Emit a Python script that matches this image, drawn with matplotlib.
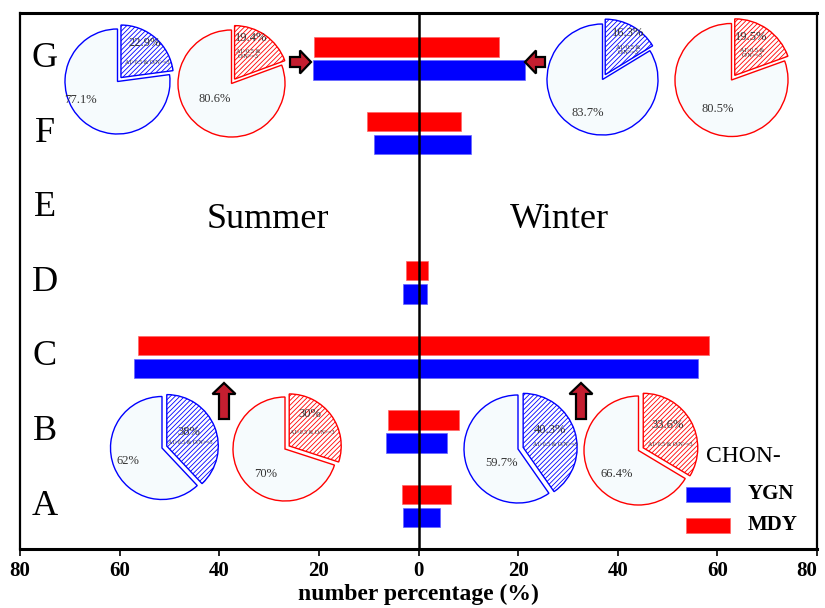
import matplotlib
matplotlib.use("Agg")
import matplotlib.pyplot as plt
import matplotlib.patches as mpatches
import matplotlib.transforms as mtransforms
import numpy as np

plt.rcParams['font.family'] = ['Liberation Serif', 'DejaVu Serif']
plt.rcParams['hatch.linewidth'] = 0.6

# ---------------- data ----------------
categories = ['A', 'B', 'C', 'D', 'E', 'F', 'G']
summer_ygn = [3.2, 6.6, 57.1, 3.1, 0.0, 8.9, 21.2]
summer_mdy = [3.4, 6.2, 56.4, 2.5, 0.0, 10.3, 21.0]
winter_ygn = [4.4, 5.7, 56.2, 1.7, 0.0, 10.5, 21.4]
winter_mdy = [6.6, 8.2, 58.3, 2.0, 0.0, 8.6, 16.1]

xticks = [-80, -60, -40, -20, 0, 20, 40, 60, 80]
xtick_labels = ['80', '60', '40', '20', '0', '20', '40', '60', '80']

# pie data: (share AI>0.5 & O/N>=3, rest)
pie_G_summer_ygn = [22.9, 77.1]
pie_G_summer_mdy = [19.4, 80.6]
pie_G_winter_ygn = [16.3, 83.7]
pie_G_winter_mdy = [19.5, 80.5]
pie_B_summer_ygn = [38, 62]
pie_B_summer_mdy = [30, 70]
pie_B_winter_ygn = [40.3, 59.7]
pie_B_winter_mdy = [33.6, 66.4]

BLUE = '#0000FF'
RED = '#FF0000'
ARROW = '#C41E30'
PALE = '#F6FBFD'

W, H = 825, 608
fig = plt.figure(figsize=(W / 100, H / 100), dpi=100)
# pixel transform (origin top-left)
PX = mtransforms.Affine2D().scale(1 / 100, -1 / 100).translate(0, H / 100) + fig.dpi_scale_trans

ax = fig.add_axes([20 / W, 1 - 549 / H, (817 - 20) / W, (549 - 13) / H])
y = np.arange(len(categories))
bh = 0.26
off = 0.155
ax.barh(y + off, -np.array(summer_mdy), height=bh, color=RED, edgecolor='#ff6666', lw=0.5)
ax.barh(y + off, winter_mdy, height=bh, color=RED, edgecolor='#ff6666', lw=0.5)
ax.barh(y - off, -np.array(summer_ygn), height=bh, color=BLUE, edgecolor='#6666ff', lw=0.5)
ax.barh(y - off, winter_ygn, height=bh, color=BLUE, edgecolor='#6666ff', lw=0.5)
ax.axvline(0, color='black', lw=1.8, zorder=3)

ax.set_xlim(-80, 80)
ax.set_ylim(-0.576, 6.61)
ax.set_xticks(xticks)
ax.set_xticklabels(xtick_labels, fontsize=15, fontweight='bold')
ax.get_xticklabels()[-1].set_ha('right')
ax.tick_params(axis='x', direction='out', length=5, width=1.2, pad=4)
ax.set_yticks([])
ax.set_xlabel('number percentage (%)', fontsize=17, fontweight='bold', labelpad=2)
for s in ['top', 'bottom']:
    ax.spines[s].set_linewidth(2.2)
for s in ['left', 'right']:
    ax.spines[s].set_linewidth(1.6)

for yi, c in zip(y, categories):
    ax.text(-75, yi, c, fontsize=26, ha='center', va='center')

fig.text(268, 220, 'Summer', transform=PX, fontsize=26, ha='center', va='center')
fig.text(559, 220, 'Winter', transform=PX, fontsize=26, ha='center', va='center')


def add_pie(vals, cx, cy, r, color):
    pad = 1.25
    a = fig.add_axes([(cx - pad * r) / W, 1 - (cy + pad * r) / H, 2 * pad * r / W, 2 * pad * r / H])
    wedges, _ = a.pie(vals, startangle=90, counterclock=False, explode=(0.1, 0.0),
                      radius=1, wedgeprops=dict(linewidth=1.0, edgecolor=color))
    wedges[0].set_facecolor('white')
    wedges[0].set_hatch('///////')
    wedges[0].set_edgecolor(color)
    wedges[1].set_facecolor(PALE)
    wedges[1].set_edgecolor(color)
    a.set_xlim(-pad, pad)
    a.set_ylim(-pad, pad)
    a.set_aspect('equal')
    a.axis('off')
    return a


add_pie(pie_G_summer_ygn, 117.5, 81.5, 52.5, BLUE)
add_pie(pie_G_summer_mdy, 231.5, 83.5, 53.5, RED)
add_pie(pie_G_winter_ygn, 602.5, 79.5, 55.5, BLUE)
add_pie(pie_G_winter_mdy, 731.5, 80.0, 56.5, RED)
add_pie(pie_B_summer_ygn, 162, 448, 51.5, BLUE)
add_pie(pie_B_summer_mdy, 285, 449, 52, RED)
add_pie(pie_B_winter_ygn, 518, 449, 54, BLUE)
add_pie(pie_B_winter_mdy, 638.5, 450.5, 54.5, RED)

TXT = '#333333'
small1 = 'AI>0.5 & O/N>=3'
small2 = 'AI>0.5 &\nO/N>=3'


def label(x, yy, s, fs=9):
    fig.text(x, yy, s, transform=PX, fontsize=fs, ha='center', va='center', color=TXT,
             linespacing=1.1)


# G summer
label(145, 43, f'{pie_G_summer_ygn[0]}%')
label(147, 62, small1, 4.2)
label(80, 100, f'{pie_G_summer_ygn[1]}%')
label(251, 38, f'{pie_G_summer_mdy[0]}%')
label(248, 54, small2, 4.5)
label(215, 99, f'{pie_G_summer_mdy[1]}%')
# G winter
label(628, 33, f'{pie_G_winter_ygn[0]}%')
label(628, 50, small2, 4.5)
label(588, 113, f'{pie_G_winter_ygn[1]}%')
label(751, 37, f'{pie_G_winter_mdy[0]}%')
label(752, 53, small2, 4.5)
label(718, 109, f'{pie_G_winter_mdy[1]}%')
# B summer
label(189, 432, f'{pie_B_summer_ygn[0]}%')
label(190, 443, small1, 4.2)
label(128, 461, f'{pie_B_summer_ygn[1]}%')
label(310, 414, f'{pie_B_summer_mdy[0]}%')
label(312, 432, small1, 4.2)
label(266, 474, f'{pie_B_summer_mdy[1]}%')
# B winter
label(550, 430, f'{pie_B_winter_ygn[0]}%')
label(555, 445, small1, 4.2)
label(502, 463, f'{pie_B_winter_ygn[1]}%')
label(668, 425, f'{pie_B_winter_mdy[0]}%')
label(670, 444, small1, 4.2)
label(617, 474, f'{pie_B_winter_mdy[1]}%')


def arrow(x, yy, dx, dy):
    p = mpatches.FancyArrow(x, yy, dx, dy, width=10, head_width=23, head_length=11,
                            length_includes_head=True, facecolor=ARROW, edgecolor='black',
                            linewidth=1.6, transform=PX, zorder=10)
    fig.patches.append(p)


arrow(290, 62, 21, 0)
arrow(545, 62, -20, 0)
arrow(224, 419, 0, -36)
arrow(581, 419, 0, -36)

# legend
fig.text(743, 456, 'CHON-', transform=PX, fontsize=17, ha='center', va='center')
fig.patches.append(mpatches.Rectangle((686, 486.5), 44, 15.5, transform=PX, facecolor=BLUE,
                                      edgecolor='#6666ff', lw=0.5))
fig.patches.append(mpatches.Rectangle((686, 517.5), 44, 15.5, transform=PX, facecolor=RED,
                                      edgecolor='#ff6666', lw=0.5))
fig.text(748, 494, 'YGN', transform=PX, fontsize=15, fontweight='bold', ha='left', va='center')
fig.text(748, 525, 'MDY', transform=PX, fontsize=15, fontweight='bold', ha='left', va='center')

fig.savefig('out.png', dpi=100)
